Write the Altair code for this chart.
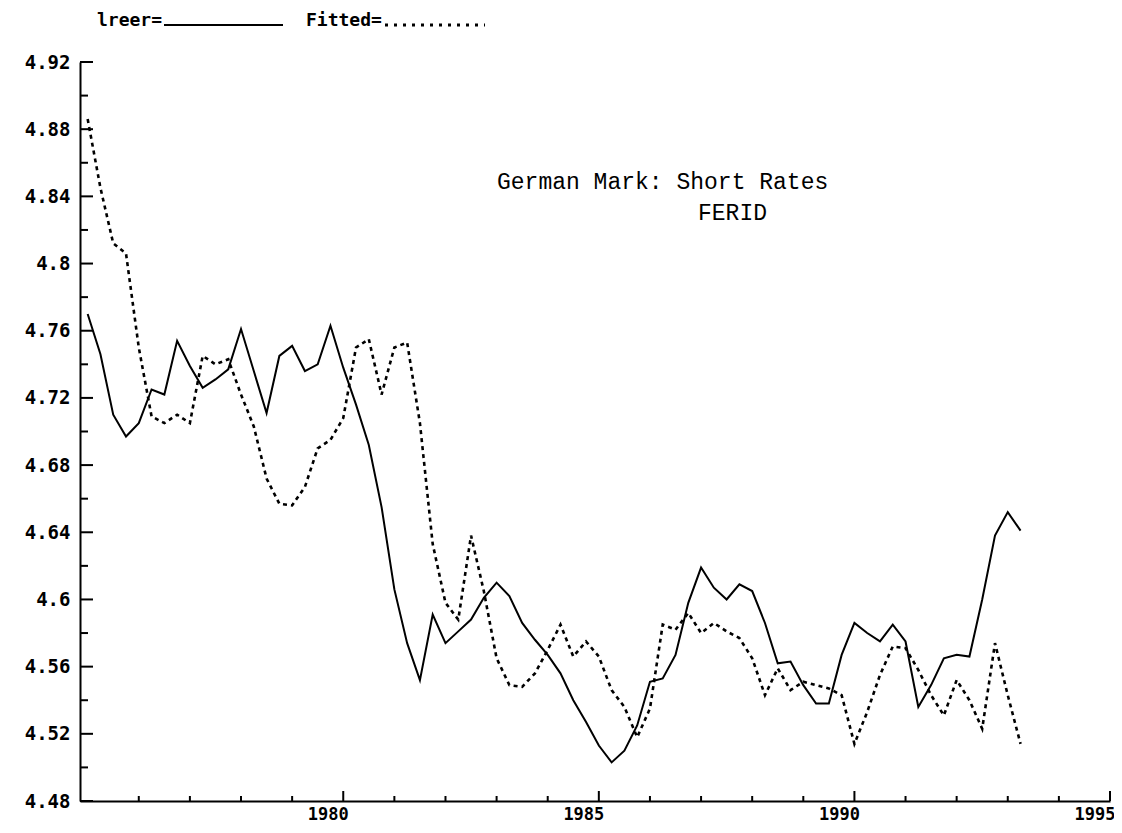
import altair as alt
import pandas as pd

# ---- data (quarterly, first observation 1975 Q1) ----
START_YEAR = 1975.0
lreer = [4.770, 4.746, 4.710, 4.697, 4.705, 4.725, 4.722, 4.754, 4.739, 4.726,
         4.731, 4.737, 4.761, 4.736, 4.711, 4.745, 4.751, 4.736, 4.740, 4.763,
         4.738, 4.716, 4.692, 4.655, 4.606, 4.574, 4.552, 4.591, 4.574, 4.581,
         4.588, 4.601, 4.610, 4.602, 4.586, 4.576, 4.567, 4.556, 4.540, 4.527,
         4.513, 4.503, 4.510, 4.525, 4.551, 4.553, 4.567, 4.598, 4.619, 4.607,
         4.600, 4.609, 4.605, 4.586, 4.562, 4.563, 4.549, 4.538, 4.538, 4.567,
         4.586, 4.580, 4.575, 4.585, 4.575, 4.536, 4.549, 4.565, 4.567, 4.566,
         4.600, 4.638, 4.652, 4.641]
fitted = [4.886, 4.845, 4.812, 4.806, 4.750, 4.709, 4.705, 4.710, 4.705, 4.745,
          4.740, 4.743, 4.722, 4.703, 4.672, 4.657, 4.656, 4.667, 4.690, 4.695,
          4.708, 4.750, 4.755, 4.722, 4.750, 4.753, 4.705, 4.633, 4.598, 4.588,
          4.638, 4.605, 4.565, 4.549, 4.548, 4.556, 4.570, 4.585, 4.566, 4.575,
          4.566, 4.546, 4.536, 4.518, 4.535, 4.585, 4.582, 4.592, 4.580, 4.586,
          4.581, 4.577, 4.565, 4.543, 4.559, 4.546, 4.551, 4.549, 4.547, 4.543,
          4.514, 4.533, 4.555, 4.572, 4.571, 4.558, 4.543, 4.531, 4.552, 4.540,
          4.523, 4.574, 4.543, 4.514]
quarters = [START_YEAR + i / 4 for i in range(len(lreer))]

y_major = [4.48, 4.52, 4.56, 4.60, 4.64, 4.68, 4.72, 4.76, 4.80, 4.84, 4.88, 4.92]
y_minor = [4.50, 4.54, 4.58, 4.62, 4.66, 4.70, 4.74, 4.78, 4.82, 4.86, 4.90]
x_major = [1980, 1985, 1990, 1995]
x_minor = [1976, 1977, 1978, 1979, 1981, 1982, 1983, 1984, 1986, 1987, 1988,
           1989, 1991, 1992, 1993, 1994]

legend_labels = ["lreer=", "Fitted="]
title_lines = ["German Mark: Short Rates"]
subtitle_lines = ["FERID"]

W, H = 1030, 739
BLACK = "black"
AXIS_FONT = "DejaVu Sans Mono"
TITLE_FONT = "Liberation Mono"

df = pd.DataFrame({"t": quarters, "lreer": lreer, "fitted": fitted})

xs = alt.Scale(domain=[1974.85, 1995], nice=False, zero=False)
ys = alt.Scale(domain=[4.48, 4.92], nice=False, zero=False)

x_axis = alt.Axis(values=x_major, format="d", title=None, ticks=False, tickSize=0,
                  grid=False, domainColor=BLACK, domainWidth=2,
                  labelFont=AXIS_FONT, labelFontWeight="bold",
                  labelFontSize=17, labelColor=BLACK, labelPadding=5,
                  labelAlign="right", labelOffset=5, labelFlush=False,
                  labelOverlap=False)
y_axis = alt.Axis(values=y_major, format="~g", title=None, ticks=False, tickSize=0,
                  grid=False, domainColor=BLACK, domainWidth=2,
                  labelFont=AXIS_FONT, labelFontWeight="bold",
                  labelFontSize=19, labelColor=BLACK, labelPadding=10,
                  labelOverlap=False)

base = alt.Chart(df)

solid = base.mark_line(color=BLACK, strokeWidth=2).encode(
    x=alt.X("t:Q", scale=xs, axis=x_axis),
    y=alt.Y("lreer:Q", scale=ys, axis=y_axis),
)
dotted = base.mark_line(color=BLACK, strokeWidth=2.6, strokeDash=[4, 4]).encode(
    x=alt.X("t:Q", scale=xs, axis=x_axis),
    y=alt.Y("fitted:Q", scale=ys, axis=y_axis),
)

ytick_major = alt.Chart(pd.DataFrame({"v": y_major})).mark_rule(
    color=BLACK, strokeWidth=2).encode(
    y=alt.Y("v:Q", scale=ys, axis=y_axis), x=alt.value(0), x2=alt.value(13))
ytick_minor = alt.Chart(pd.DataFrame({"v": y_minor})).mark_rule(
    color=BLACK, strokeWidth=2).encode(
    y=alt.Y("v:Q", scale=ys, axis=y_axis), x=alt.value(0), x2=alt.value(8))
xtick_major = alt.Chart(pd.DataFrame({"t": x_major})).mark_rule(
    color=BLACK, strokeWidth=2).encode(
    x=alt.X("t:Q", scale=xs, axis=x_axis), y=alt.value(H), y2=alt.value(H - 10))
xtick_minor = alt.Chart(pd.DataFrame({"t": x_minor})).mark_rule(
    color=BLACK, strokeWidth=2).encode(
    x=alt.X("t:Q", scale=xs, axis=x_axis), y=alt.value(H), y2=alt.value(H - 5))

# legend (above the plot, top-left)
leg_y = -36  # text baseline, relative to plot top
leg_text_solid = alt.Chart(pd.DataFrame({"s": [legend_labels[0]]})).mark_text(
    align="left", baseline="alphabetic", font=AXIS_FONT, fontWeight="bold",
    fontSize=18, color=BLACK).encode(text="s:N", x=alt.value(17), y=alt.value(leg_y))
leg_line_solid = alt.Chart(pd.DataFrame({"s": [legend_labels[0]]})).mark_rule(
    color=BLACK, strokeWidth=2).encode(
    x=alt.value(84), x2=alt.value(203), y=alt.value(leg_y - 1))
leg_text_dot = alt.Chart(pd.DataFrame({"s": [legend_labels[1]]})).mark_text(
    align="left", baseline="alphabetic", font=AXIS_FONT, fontWeight="bold",
    fontSize=18, color=BLACK).encode(text="s:N", x=alt.value(226), y=alt.value(leg_y))
leg_line_dot = alt.Chart(pd.DataFrame({"s": [legend_labels[1]]})).mark_rule(
    color=BLACK, strokeWidth=3, strokeDash=[3, 6]).encode(
    x=alt.value(305), x2=alt.value(405), y=alt.value(leg_y - 1))

ttl = alt.Chart(pd.DataFrame({"s": title_lines})).mark_text(
    align="left", baseline="middle", font=TITLE_FONT, fontSize=23,
    color=BLACK).encode(text="s:N", x=alt.value(417), y=alt.value(120))
sub = alt.Chart(pd.DataFrame({"s": subtitle_lines})).mark_text(
    align="left", baseline="middle", font=TITLE_FONT, fontSize=23,
    color=BLACK).encode(text="s:N", x=alt.value(618), y=alt.value(151))

chart = alt.layer(
    solid, dotted, ytick_major, ytick_minor, xtick_major, xtick_minor,
    leg_text_solid, leg_line_solid, leg_text_dot, leg_line_dot, ttl, sub
).properties(
    width=W, height=H,
    padding={"left": 72, "top": 54, "right": 4, "bottom": 24},
    autosize=alt.AutoSizeParams(type="none"),
    background="white",
).configure_view(stroke=None)

chart.save("out.html", embed_options={"renderer": "svg", "actions": False})
